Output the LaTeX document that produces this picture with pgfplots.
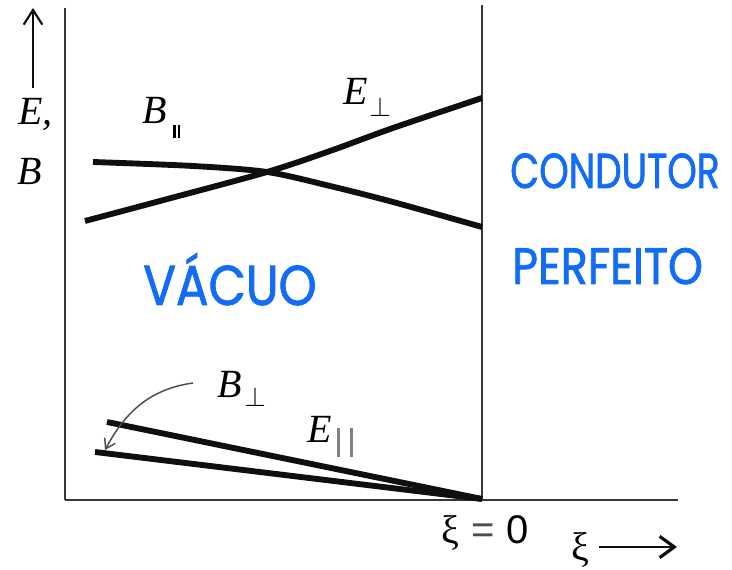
\documentclass[border=0pt]{standalone}
\usepackage{fontspec}
\usepackage{pgfplots}
\pgfplotsset{compat=1.18}
\usetikzlibrary{arrows.meta}
\setmainfont{Liberation Serif}
\newfontfamily\sansf{Liberation Sans}
\newfontfamily\hand{Poppins}[FakeBold=1.6]
\definecolor{ink}{RGB}{15,15,15}
\definecolor{pen}{RGB}{18,108,245}
\definecolor{axgray}{RGB}{55,55,55}

\newcommand{\lbl}{\fontsize{30}{34}\selectfont\itshape}

\begin{document}
\begin{tikzpicture}
\begin{axis}[
  name=ax,
  scale only axis,
  width=549pt, height=427.5pt,
  xmin=-4.82, xmax=2.50,
  ymin=-0.70, ymax=5.00,
  hide axis,
  clip=false,
]
% frame: E,B axis, xi axis and the boundary at xi = 0
\addplot[axgray, line width=2.2pt] coordinates {(-4.17,4.92) (-4.17,0)};
\addplot[axgray, line width=1.8pt] coordinates {(-4.17,0) (1.96,0)};
\addplot[axgray, line width=1.6pt] coordinates {(0,4.95) (0,0)};

% tangential E and normal B fall to zero at the conductor
\addplot[ink, line width=4.4pt] coordinates {(-3.75,0.78) (0,0.01)};
\addplot[ink, line width=4.4pt] coordinates {(-3.87,0.48) (0,0.01)};

% normal E rises, tangential B falls towards the conductor
\addplot[ink, line width=4.4pt, smooth] coordinates {
  (-3.97,2.79) (-3.22,2.99) (-2.15,3.28) (-1.52,3.49) (-0.89,3.72) (0,4.02)};
\addplot[ink, line width=4.4pt, smooth] coordinates {
  (-3.89,3.38) (-2.89,3.34) (-2.15,3.28) (-1.52,3.14) (-0.89,2.98) (0,2.73)};

% vertical quantity arrow
\draw[ink, line width=1.6pt, -{Straight Barb[length=11pt,width=14pt,line width=1.6pt]}]
  (axis cs:-4.49,4.12) -- (axis cs:-4.49,4.92);
\node[anchor=base west, inner sep=0pt] at (axis cs:-4.64,3.75) {\lbl E,};
\node[anchor=base west, inner sep=0pt] at (axis cs:-4.65,3.15) {\lbl B};

% curve labels
\node[anchor=base west, inner sep=0pt] at (axis cs:-3.40,3.76) {\lbl B};
\node[anchor=base west, inner sep=0pt] at (axis cs:-3.09,3.62)
  {\rule{1.8pt}{9.5pt}\hspace{1.6pt}\rule{1.8pt}{9.5pt}};
\node[anchor=base west, inner sep=0pt] at (axis cs:-1.39,3.95) {\lbl E};
\node[anchor=base west, inner sep=0pt] at (axis cs:-1.13,3.83)
  {\fontsize{21}{24}\selectfont$\perp$};
\node[anchor=base west, inner sep=0pt] at (axis cs:-2.65,1.02) {\lbl B};
\node[anchor=base west, inner sep=0pt] at (axis cs:-2.38,0.93)
  {\fontsize{21}{24}\selectfont$\perp$};
\node[anchor=base west, inner sep=0pt] at (axis cs:-1.75,0.57) {\lbl E};
\node[anchor=base west, inner sep=0pt, gray] at (axis cs:-1.45,0.43)
  {\rule{2.2pt}{21.5pt}\hspace{7.5pt}\rule{2.2pt}{21.5pt}};

% pointer from the B-perp label to its line
\draw[gray!60!black, line width=1.1pt, -{Straight Barb[length=7pt,width=9pt,line width=1.1pt]}]
  (axis cs:-2.89,1.17) to[out=188,in=62] (axis cs:-3.77,0.50);

% xi axis labels
\node[anchor=base, inner sep=0pt] at (axis cs:0.03,-0.44)
  {\fontsize{30}{34}\selectfont ξ\hspace{9pt}{\sansf\color{black!70}=}\hspace{9pt}{\sansf 0}};
\node[anchor=base west, inner sep=0pt] at (axis cs:0.89,-0.61)
  {\fontsize{30}{34}\selectfont ξ};
\draw[ink, line width=2.2pt, -{Straight Barb[length=11pt,width=16pt,line width=2.4pt]}]
  (axis cs:1.17,-0.47) -- (axis cs:1.95,-0.47);

% region names
\node[anchor=base west, inner sep=0pt, text=pen] at (axis cs:-3.39,1.95)
  {\resizebox{130pt}{39pt}{\hand VÁCUO}};
\node[anchor=base west, inner sep=0pt, text=pen] at (axis cs:0.28,3.12)
  {\resizebox{157pt}{26pt}{\hand CONDUTOR}};
\node[anchor=base west, inner sep=0pt, text=pen] at (axis cs:0.30,2.16)
  {\resizebox{143pt}{27pt}{\hand PERFEITO}};
\end{axis}
\pgfresetboundingbox
\path (ax.south west) rectangle (ax.north east);
\end{tikzpicture}
\end{document}
